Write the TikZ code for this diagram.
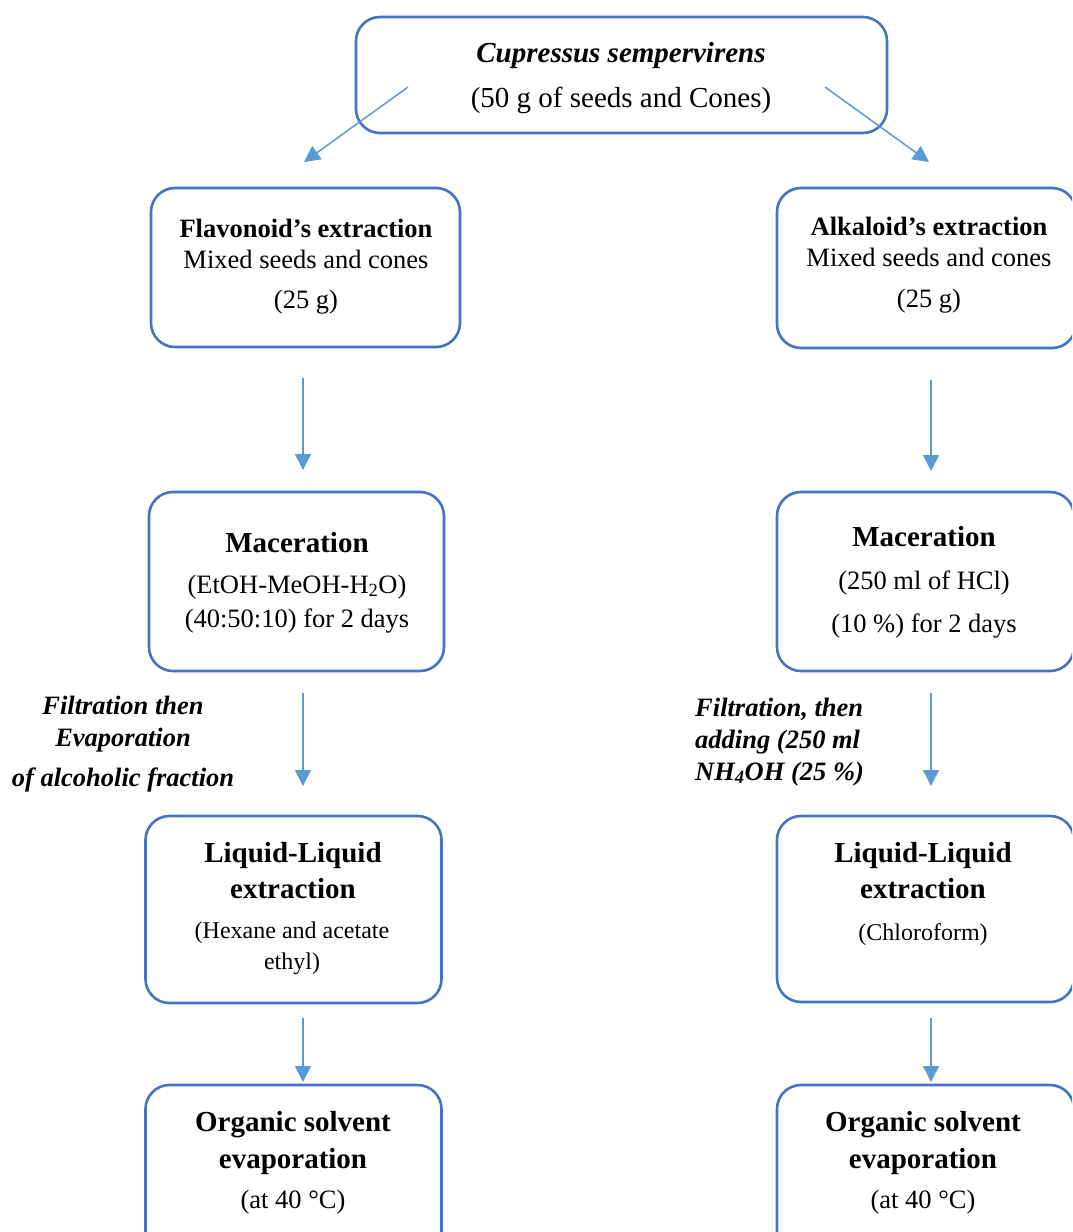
\documentclass[tikz,border=0pt]{standalone}
\usepackage{fontspec}
\setmainfont{Liberation Serif}
\usetikzlibrary{arrows.meta}
\definecolor{boxblue}{HTML}{4472C4}
\definecolor{arrblue}{HTML}{5B9BD5}
\begin{document}
\begin{tikzpicture}[x=1pt,y=-1pt,
  box/.style={draw=boxblue,line width=2.6pt,rounded corners=24pt,inner sep=0pt},
  txt/.style={inner sep=0pt,anchor=base},
  hd/.style={txt,font=\fontsize{29}{34}\selectfont\bfseries},
  hdi/.style={txt,font=\fontsize{29}{34}\selectfont\bfseries\itshape},
  bdl/.style={txt,font=\fontsize{29}{34}\selectfont},
  hds/.style={txt,font=\fontsize{26.5}{31}\selectfont\bfseries},
  bd/.style={txt,font=\fontsize{26.5}{31}\selectfont},
  sm/.style={txt,font=\fontsize{24}{28}\selectfont},
  lb/.style={txt,font=\fontsize{26.5}{31}\selectfont\bfseries\itshape},
  arr/.style={draw=arrblue,line width=1.5pt,-{Triangle[width=16pt,length=16pt]}}]
\path[use as bounding box,clip] (0,0) rectangle (1072,1232);
\fill[white] (0,0) rectangle (1072,1232);

% boxes
\node[box,minimum width=531pt,minimum height=116pt] (top) at (621.5,75) {};
\node[box,minimum width=309pt,minimum height=159pt] (L1) at (305.5,267.5) {};
\node[box,minimum width=299pt,minimum height=160pt] (R1) at (926.5,268) {};
\node[box,minimum width=295pt,minimum height=179pt] (L2) at (296.5,581.5) {};
\node[box,minimum width=297pt,minimum height=179pt] (R2) at (925.5,581.5) {};
\node[box,minimum width=296pt,minimum height=187pt] (L3) at (293.5,909.5) {};
\node[box,minimum width=297pt,minimum height=186pt] (R3) at (925.5,909) {};
\node[box,minimum width=296pt,minimum height=175pt] (L4) at (293.5,1172.5) {};
\node[box,minimum width=297pt,minimum height=175pt] (R4) at (925.5,1172.5) {};

% top text
\node[hdi] (t1) at (621,62) {Cupressus sempervirens};
\node[bdl] (t2) at (621,107) {(50 g of seeds and Cones)};

% left column
\node[hds] (l1a) at (306,237) {Flavonoid’s extraction};
\node[bd] (l1b) at (306,268) {Mixed seeds and cones};
\node[bd] (l1c) at (306,308) {(25 g)};

\node[hd] (l2a) at (297,552) {Maceration};
\node[bd] (l2b) at (297,593) {(EtOH-MeOH-H\textsubscript{2}O)};
\node[bd] (l2c) at (297,627) {(40:50:10) for 2 days};

\node[hd] (l3a) at (293,862) {Liquid-Liquid};
\node[hd] (l3b) at (293,898) {extraction};
\node[sm] (l3c) at (292,938) {(Hexane and acetate};
\node[sm] (l3d) at (292,969) {ethyl)};

\node[hd] (l4a) at (293,1131) {Organic solvent};
\node[hd] (l4b) at (293,1168) {evaporation};
\node[bd] (l4c) at (293,1208) {(at 40 °C)};

% right column
\node[hds] (r1a) at (929,235) {Alkaloid’s extraction};
\node[bd] (r1b) at (929,266) {Mixed seeds and cones};
\node[bd] (r1c) at (929,307) {(25 g)};

\node[hd] (r2a) at (924,546) {Maceration};
\node[bd] (r2b) at (924,589) {(250 ml of HCl)};
\node[bd] (r2c) at (924,632) {(10 \%) for 2 days};

\node[hd] (r3a) at (923,862) {Liquid-Liquid};
\node[hd] (r3b) at (923,898) {extraction};
\node[sm] (r3c) at (923,940) {(Chloroform)};

\node[hd] (r4a) at (923,1131) {Organic solvent};
\node[hd] (r4b) at (923,1168) {evaporation};
\node[bd] (r4c) at (923,1208) {(at 40 °C)};

% side labels
\node[lb] (la1) at (123,714) {Filtration then};
\node[lb] (la2) at (123,746) {Evaporation};
\node[lb] (la3) at (123,786) {of alcoholic fraction};
\node[lb,anchor=base west] (ra1) at (695,716) {Filtration, then};
\node[lb,anchor=base west] (ra2) at (695,748) {adding (250 ml};
\node[lb,anchor=base west] (ra3) at (695,780) {NH\textsubscript{4}OH (25 \%)};

% arrow end points
\coordinate (a1s) at (408,87);  \coordinate (a1e) at (304,162);
\coordinate (a2s) at (825,87);  \coordinate (a2e) at (929,162);
\coordinate (a3s) at (303,378); \coordinate (a3e) at (303,470);
\coordinate (a4s) at (303,693); \coordinate (a4e) at (303,786);
\coordinate (a5s) at (303,1018);\coordinate (a5e) at (303,1082);
\coordinate (a6s) at (931,380); \coordinate (a6e) at (931,471);
\coordinate (a7s) at (931,693); \coordinate (a7e) at (931,786);
\coordinate (a8s) at (931,1018);\coordinate (a8e) at (931,1082);

\draw[arr] (a1s) -- (a1e);
\draw[arr] (a2s) -- (a2e);
\draw[arr] (a3s) -- (a3e);
\draw[arr] (a4s) -- (a4e);
\draw[arr] (a5s) -- (a5e);
\draw[arr] (a6s) -- (a6e);
\draw[arr] (a7s) -- (a7e);
\draw[arr] (a8s) -- (a8e);
\end{tikzpicture}
\end{document}
